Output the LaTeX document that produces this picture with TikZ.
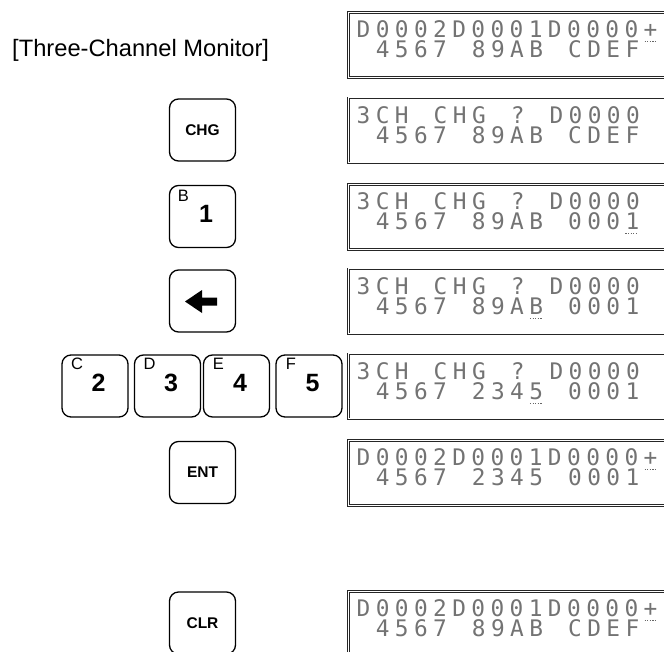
\documentclass[tikz,border=0pt]{standalone}
\usepackage{fontspec}
\setmainfont{Liberation Sans}
\newfontfamily\lcdfont[LetterSpace=23.7, WordSpace=1.31]{DejaVu Sans Mono}
\frenchspacing

\begin{document}
\begin{tikzpicture}[x=1pt, y=-1pt,
  keybox/.style={draw, line width=1.3pt, rounded corners=9pt, minimum width=66pt, minimum height=62pt, inner sep=0pt, font=\bfseries\fontsize{15.5}{16}\selectfont},
  digit/.style={inner sep=0pt, font=\bfseries\fontsize{25}{26}\selectfont},
  hexlbl/.style={inner sep=0pt, font=\fontsize{16.5}{17}\selectfont},
  lcd/.style={draw=black!85, line width=0.8pt, double=white, double distance=0.9pt, minimum width=340pt, minimum height=65pt, anchor=north west, inner sep=0pt},
  lcdtxt/.style={anchor=base west, inner sep=0pt, text=black!55, font=\lcdfont\fontsize{22.8}{23}\selectfont},
  cursor/.style={black!60, line width=1.2pt, dash pattern=on 1.2pt off 1.4pt}
]
  \clip (0,0) rectangle (664,651);

  \node[anchor=base west, inner sep=0pt, font=\fontsize{23.7}{24}\selectfont] (title) at (12,56) {[Three-Channel Monitor]};

  % keys
  \node[keybox] (chg) at (202.5,130) {CHG};
  \node[keybox] (kb) at (202.5,216.5) {};
  \node[digit] at ([shift={(3.5,-3)}]kb.center) {1};
  \node[hexlbl] at ([shift={(-19,-21)}]kb.center) {B};
  \node[keybox] (back) at (202.5,301) {};
  \fill ([shift={(-17.5,0.5)}]back.center) -- ++(17,-11.5) -- ++(0,7.5) -- ++(15,0) -- ++(0,8) -- ++(-15,0) -- ++(0,7.5) -- cycle;
  \node[keybox] (kc) at (95,386) {};
  \node[digit] at ([shift={(3.5,-3)}]kc.center) {2};
  \node[hexlbl] at ([shift={(-18,-22)}]kc.center) {C};
  \node[keybox] (kd) at (167.5,386) {};
  \node[digit] at ([shift={(3.5,-3)}]kd.center) {3};
  \node[hexlbl] at ([shift={(-18,-22)}]kd.center) {D};
  \node[keybox] (ke) at (236.5,386) {};
  \node[digit] at ([shift={(3.5,-3)}]ke.center) {4};
  \node[hexlbl] at ([shift={(-18,-22)}]ke.center) {E};
  \node[keybox] (kf) at (309,386) {};
  \node[digit] at ([shift={(3.5,-3)}]kf.center) {5};
  \node[hexlbl] at ([shift={(-18,-22)}]kf.center) {F};
  \node[keybox] (ent) at (202.5,472.5) {ENT};
  \node[keybox] (clr) at (202.5,623) {CLR};

  % displays
  \node[lcd] (d1) at (348,12) {};
  \node[lcdtxt] (d1a) at ([shift={(8.5,25.6)}]d1.north west) {D0002D0001D0000+};
  \node[lcdtxt] (d1b) at ([shift={(27.6,45.6)}]d1.north west) {4567 89AB CDEF};
  \draw[cursor] ([shift={(296.5,29.6)}]d1.north west) -- ++(12,0);

  \node[lcd] (d2) at (348,97.5) {};
  \node[lcdtxt] (d2a) at ([shift={(8.5,25.6)}]d2.north west) {3CH CHG ? D0000};
  \node[lcdtxt] (d2b) at ([shift={(27.6,45.6)}]d2.north west) {4567 89AB CDEF};

  \node[lcd] (d3) at (348,184) {};
  \node[lcdtxt] (d3a) at ([shift={(8.5,25.6)}]d3.north west) {3CH CHG ? D0000};
  \node[lcdtxt] (d3b) at ([shift={(27.6,45.6)}]d3.north west) {4567 89AB 0001};
  \draw[cursor] ([shift={(277.4,49.6)}]d3.north west) -- ++(12,0);

  \node[lcd] (d4) at (348,268.5) {};
  \node[lcdtxt] (d4a) at ([shift={(8.5,25.6)}]d4.north west) {3CH CHG ? D0000};
  \node[lcdtxt] (d4b) at ([shift={(27.6,45.6)}]d4.north west) {4567 89AB 0001};
  \draw[cursor] ([shift={(181.9,49.6)}]d4.north west) -- ++(12,0);

  \node[lcd] (d5) at (348,353.5) {};
  \node[lcdtxt] (d5a) at ([shift={(8.5,25.6)}]d5.north west) {3CH CHG ? D0000};
  \node[lcdtxt] (d5b) at ([shift={(27.6,45.6)}]d5.north west) {4567 2345 0001};
  \draw[cursor] ([shift={(181.9,49.6)}]d5.north west) -- ++(12,0);

  \node[lcd] (d6) at (348,440) {};
  \node[lcdtxt] (d6a) at ([shift={(8.5,25.6)}]d6.north west) {D0002D0001D0000+};
  \node[lcdtxt] (d6b) at ([shift={(27.6,45.6)}]d6.north west) {4567 2345 0001};
  \draw[cursor] ([shift={(296.5,29.6)}]d6.north west) -- ++(12,0);

  \node[lcd] (d7) at (348,591) {};
  \node[lcdtxt] (d7a) at ([shift={(8.5,25.6)}]d7.north west) {D0002D0001D0000+};
  \node[lcdtxt] (d7b) at ([shift={(27.6,45.6)}]d7.north west) {4567 89AB CDEF};
  \draw[cursor] ([shift={(296.5,29.6)}]d7.north west) -- ++(12,0);
\end{tikzpicture}
\end{document}
